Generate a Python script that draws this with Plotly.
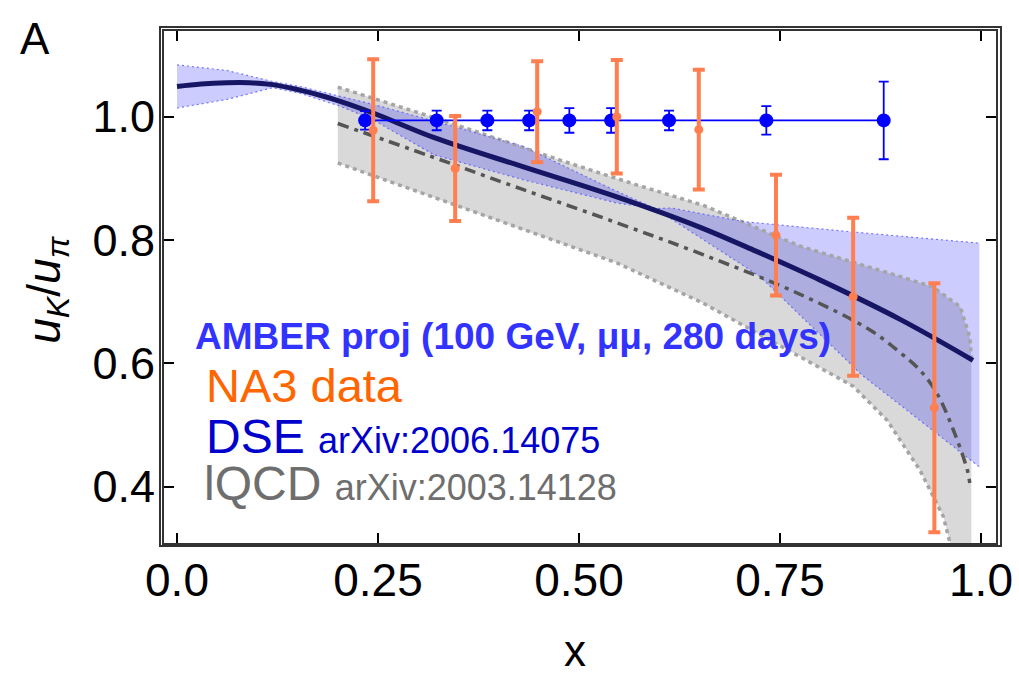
import plotly.graph_objects as go

# ---------------- data ----------------
# DSE central curve
dse_x = [0.0, 0.03, 0.062, 0.09, 0.119, 0.153, 0.18, 0.203, 0.244, 0.32, 0.43, 0.547, 0.65, 0.72, 0.80, 0.90, 0.99]
dse_y = [1.049, 1.053, 1.055, 1.055, 1.052, 1.043, 1.034, 1.025, 1.006, 0.966, 0.919, 0.870, 0.821, 0.782, 0.735, 0.671, 0.605]
# DSE band
dse_up_x = [0.0, 0.062, 0.119, 0.153, 0.203, 0.244, 0.32, 0.43, 0.547, 0.595, 0.615, 0.704, 0.85, 0.998]
dse_up_y = [1.084, 1.075, 1.057, 1.049, 1.033, 1.020, 0.993, 0.952, 0.879, 0.851, 0.852, 0.830, 0.812, 0.795]
dse_lo_x = [0.0, 0.062, 0.119, 0.153, 0.203, 0.244, 0.32, 0.43, 0.547, 0.595, 0.725, 0.852, 0.998]
dse_lo_y = [1.014, 1.028, 1.047, 1.038, 1.017, 0.995, 0.938, 0.898, 0.860, 0.851, 0.741, 0.581, 0.432]

# lattice QCD central curve and band
lq_x = [0.2, 0.315, 0.43, 0.547, 0.655, 0.775, 0.862, 0.899, 0.924, 0.945, 0.965, 0.983, 0.986]
lq_y = [0.989, 0.936, 0.882, 0.828, 0.776, 0.712, 0.654, 0.618, 0.589, 0.552, 0.494, 0.427, 0.406]
lq_up_x = [0.2, 0.34, 0.48, 0.563, 0.655, 0.775, 0.899, 0.94, 0.974, 0.986, 0.988]
lq_up_y = [1.048, 0.990, 0.928, 0.893, 0.856, 0.790, 0.741, 0.724, 0.692, 0.643, 0.610]
lq_lo_x = [0.2, 0.315, 0.43, 0.547, 0.654, 0.80, 0.841, 0.883, 0.924, 0.953, 0.961, 0.975, 0.988]
lq_lo_y = [0.925, 0.871, 0.817, 0.763, 0.698, 0.593, 0.563, 0.508, 0.427, 0.352, 0.313, 0.240, 0.150]

# AMBER projection
amber_x = [0.234, 0.323, 0.386, 0.438, 0.488, 0.540, 0.612, 0.733, 0.879]
amber_y = [0.994, 0.994, 0.994, 0.994, 0.994, 0.994, 0.994, 0.994, 0.994]
amber_err = [0.015, 0.016, 0.016, 0.016, 0.020, 0.020, 0.016, 0.023, 0.063]

# NA3 data
na3_x = [0.244, 0.346, 0.448, 0.547, 0.649, 0.745, 0.841, 0.942]
na3_y = [0.978, 0.916, 1.008, 1.000, 0.979, 0.808, 0.708, 0.528]
na3_err = [0.115, 0.085, 0.082, 0.092, 0.097, 0.098, 0.128, 0.202]

x_ticks = [0.0, 0.25, 0.5, 0.75, 1.0]
x_ticklabels = ["0.0", "0.25", "0.50", "0.75", "1.0"]
y_ticks = [0.4, 0.6, 0.8, 1.0]
y_ticklabels = ["0.4", "0.6", "0.8", "1.0"]

# ---------------- figure ----------------
FONT = "Liberation Sans, Arial, sans-serif"
fig = go.Figure()

# lQCD band fill
fig.add_trace(go.Scatter(
    x=lq_up_x + lq_lo_x[::-1], y=lq_up_y + lq_lo_y[::-1],
    fill="toself", fillcolor="rgb(217,217,217)", line=dict(width=0),
    mode="lines", hoverinfo="skip", showlegend=False))
# DSE band fill
fig.add_trace(go.Scatter(
    x=dse_up_x + dse_lo_x[::-1], y=dse_up_y + dse_lo_y[::-1],
    fill="toself", fillcolor="rgba(0,0,255,0.2)", line=dict(width=0),
    mode="lines", hoverinfo="skip", showlegend=False))
# lQCD band edges
for xs, ys in [(lq_up_x, lq_up_y), (lq_lo_x, lq_lo_y)]:
    fig.add_trace(go.Scatter(x=xs, y=ys, mode="lines",
                             line=dict(color="rgb(165,165,165)", width=3.5, dash="4px,4px"),
                             hoverinfo="skip", showlegend=False))
# DSE band edges
for xs, ys in [(dse_up_x, dse_up_y), (dse_lo_x, dse_lo_y)]:
    fig.add_trace(go.Scatter(x=xs, y=ys, mode="lines",
                             line=dict(color="rgba(90,90,255,0.8)", width=1.2, dash="2px,3px"),
                             hoverinfo="skip", showlegend=False))
# lQCD central
fig.add_trace(go.Scatter(x=lq_x, y=lq_y, mode="lines", line_shape="spline",
                         line=dict(color="rgb(85,85,85)", width=3.5, dash="11px,6px,4px,6px"),
                         hoverinfo="skip", showlegend=False))
# DSE central
fig.add_trace(go.Scatter(x=dse_x, y=dse_y, mode="lines", line_shape="spline",
                         line=dict(color="rgb(22,22,100)", width=5),
                         hoverinfo="skip", showlegend=False))
# AMBER projection
fig.add_trace(go.Scatter(x=amber_x, y=amber_y, mode="lines+markers",
                         line=dict(color="#0000ff", width=1.8),
                         marker=dict(color="#0000ff", size=14),
                         error_y=dict(type="data", array=amber_err, color="#0000ff",
                                      thickness=1.8, width=5),
                         showlegend=False))
# NA3 data
fig.add_trace(go.Scatter(x=na3_x, y=na3_y, mode="markers",
                         marker=dict(color="rgb(255,127,80)", size=9),
                         error_y=dict(type="data", array=na3_err, color="rgb(255,127,80)",
                                      thickness=4, width=6),
                         showlegend=False))

# text labels inside the plot
fig.add_annotation(x=0.0200, y=0.643, xref="x", yref="y", xanchor="left", yanchor="middle",
                   text="<b>AMBER proj (100 GeV, μμ, 280 days)</b>", showarrow=False,
                   font=dict(family=FONT, size=37, color="rgb(51,51,255)"))
fig.add_annotation(x=0.033, y=0.564, xref="x", yref="y", xanchor="left", yanchor="middle",
                   text="NA3 data", showarrow=False,
                   font=dict(family=FONT, size=47, color="rgb(255,102,0)"))
fig.add_annotation(x=0.033, y=0.481, xref="x", yref="y", xanchor="left", yanchor="middle",
                   text="DSE <span style='font-size:36px'>arXiv:2006.14075</span>", showarrow=False,
                   font=dict(family=FONT, size=48, color="rgb(0,0,204)"))
fig.add_annotation(x=0.031, y=0.406, xref="x", yref="y", xanchor="left", yanchor="middle",
                   text="lQCD <span style='font-size:36px'>arXiv:2003.14128</span>", showarrow=False,
                   font=dict(family=FONT, size=48, color="rgb(110,110,110)"))

# panel letter, axis titles
fig.add_annotation(x=-0.175, y=0.986, xref="paper", yref="paper", xanchor="left", yanchor="middle",
                   text="A", showarrow=False, font=dict(family=FONT, size=44, color="black"))
fig.add_annotation(x=-0.141, y=0.494, xref="paper", yref="paper", xanchor="center", yanchor="middle",
                   text="<i>u<sub>K</sub></i>/<i>u<sub>π</sub></i>", textangle=-90, showarrow=False,
                   font=dict(family=FONT, size=46, color="black"))
fig.add_annotation(x=0.494, y=-0.209, xref="paper", yref="paper", xanchor="center", yanchor="middle",
                   text="x", showarrow=False, font=dict(family=FONT, size=44, color="black"))

# outer frame line (double frame look)
fig.add_shape(type="rect", xref="paper", yref="paper",
              x0=-0.0048, x1=1.006, y0=-0.0059, y1=1.0078,
              line=dict(color="#333333", width=2), layer="above")

fig.update_xaxes(range=[-0.01617, 1.01866], tickvals=x_ticks, ticktext=x_ticklabels,
                 ticks="inside", ticklen=10, tickwidth=2, tickcolor="black",
                 showline=True, linewidth=2, linecolor="#333333", mirror="ticks",
                 showgrid=False, zeroline=False, ticklabelstandoff=-4, automargin=False,
                 tickfont=dict(family=FONT, size=46, color="black"))
fig.update_yaxes(range=[0.30873, 1.13896], tickvals=y_ticks, ticktext=y_ticklabels,
                 ticks="inside", ticklen=10, tickwidth=2, tickcolor="black",
                 showline=True, linewidth=2, linecolor="#333333", mirror="ticks",
                 showgrid=False, zeroline=False, ticklabelstandoff=-2, automargin=False,
                 tickfont=dict(family=FONT, size=45, color="black"))

fig.update_layout(width=1019, height=676, margin=dict(l=164, r=23, t=31, b=133, autoexpand=False),
                  plot_bgcolor="white", paper_bgcolor="white", showlegend=False)

fig.write_html("out.html", config={"displayModeBar": False},
               post_script="document.body.style.margin='0';document.body.style.overflow='hidden';")
